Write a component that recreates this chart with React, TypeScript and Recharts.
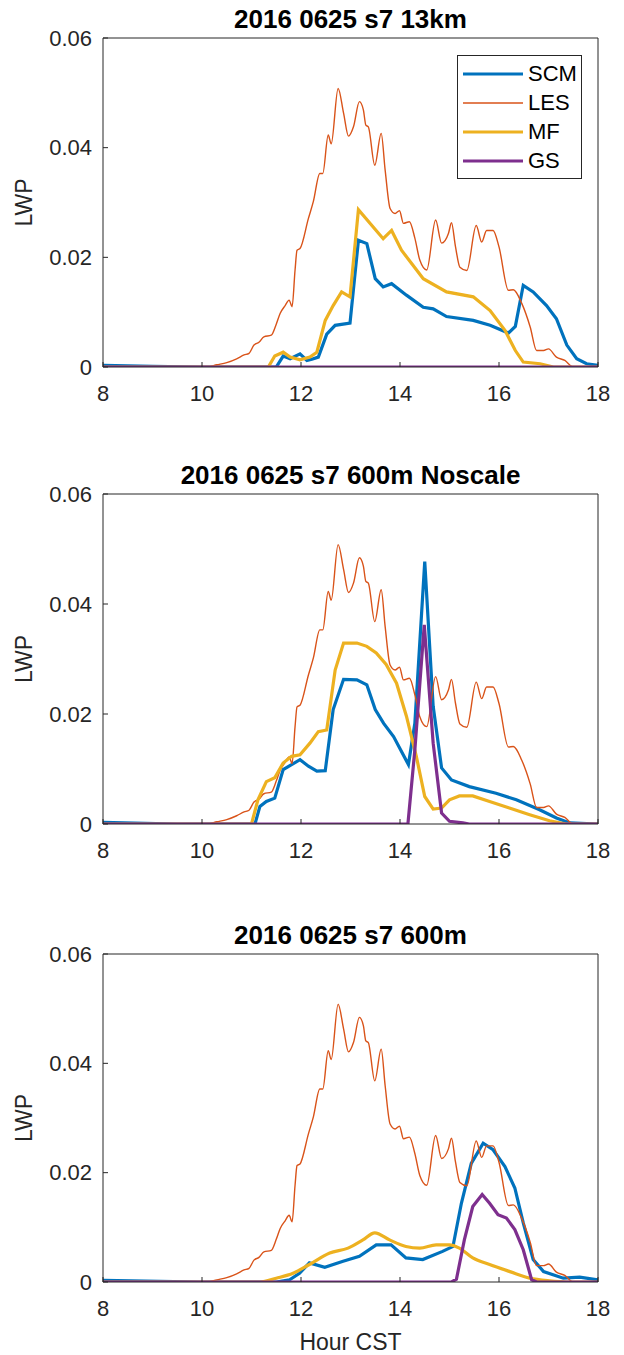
import React from "react";
import { Legend, Line, LineChart, XAxis, YAxis } from "recharts";

// hour of day (CST) and liquid water path
const lesHours = [
  8, 10.1, 10.3, 10.5, 10.7, 10.85, 10.95, 11.05, 11.15, 11.25, 11.4, 11.5, 11.58, 11.68, 11.76, 11.82, 11.88,
  11.92, 11.98, 12.15, 12.25, 12.38, 12.44, 12.55, 12.61, 12.75, 12.86, 12.96, 13.06, 13.18, 13.26, 13.31, 13.36,
  13.49, 13.62, 13.7, 13.8, 13.9, 13.99, 14.07, 14.19, 14.3, 14.4, 14.54, 14.72, 14.84, 14.98, 15.04, 15.12, 15.21,
  15.35, 15.54, 15.65, 15.75, 15.88, 16.0, 16.19, 16.29, 16.46, 16.63, 16.76, 16.9, 17.0, 17.16, 17.33, 17.5, 18,
];
const lesLwp = [
  0, 0, 0.0004, 0.0008, 0.0015, 0.0022, 0.0025, 0.004, 0.0045, 0.0055, 0.0058, 0.0078, 0.0098, 0.0112, 0.0122, 0.011,
  0.0177, 0.0213, 0.0216, 0.0271, 0.0302, 0.0353, 0.0353, 0.0423, 0.0407, 0.0508, 0.0463, 0.0421, 0.0438, 0.0484,
  0.0469, 0.0441, 0.0438, 0.0368, 0.0426, 0.0359, 0.0289, 0.028, 0.0285, 0.0262, 0.0265, 0.0235, 0.0195, 0.0177,
  0.0268, 0.0226, 0.0244, 0.0263, 0.022, 0.0182, 0.0176, 0.0258, 0.0228, 0.0249, 0.0249, 0.0219, 0.014, 0.0141,
  0.0116, 0.0073, 0.003, 0.003, 0.0033, 0.0018, 0.0012, 0, 0,
];

// panel 1: 13km
const scm13Hours = [
  8, 9, 10, 11.5, 11.64, 11.78, 11.98, 12.12, 12.22, 12.35, 12.52, 12.69, 12.99, 13.16, 13.33, 13.5, 13.66, 13.83,
  14.13, 14.47, 14.67, 14.94, 15.48, 15.82, 16.19, 16.33, 16.49, 16.69, 16.96, 17.16, 17.37, 17.57, 17.77, 18,
];
const scm13Lwp = [
  0.0003, 0.0001, 0, 0, 0.002, 0.0015, 0.0024, 0.0012, 0.0014, 0.0018, 0.006, 0.0076, 0.008, 0.0231, 0.0225, 0.0161,
  0.0146, 0.0152, 0.0131, 0.0109, 0.0106, 0.0092, 0.0085, 0.0076, 0.0062, 0.0074, 0.0149, 0.0137, 0.0112, 0.0088,
  0.004, 0.0015, 0.0006, 0.0003,
];
const mf13Hours = [
  8, 11.34, 11.47, 11.64, 11.78, 11.98, 12.18, 12.32, 12.49, 12.65, 12.82, 12.99, 13.16, 13.66, 13.83, 14.03, 14.47,
  14.94, 15.48, 15.82, 16.12, 16.33, 16.49, 16.83, 17.1, 18,
];
const mf13Lwp = [
  0, 0, 0.002, 0.0027, 0.0018, 0.0013, 0.0018, 0.0027, 0.0085, 0.0112, 0.0137, 0.0128, 0.0287, 0.0234, 0.0249, 0.0213,
  0.0161, 0.0137, 0.0128, 0.0103, 0.0067, 0.003, 0.0009, 0.0006, 0, 0,
];
const gs13Hours = [8, 18];
const gs13Lwp = [0, 0];

// panel 2: 600m Noscale
const scmNsHours = [
  8, 9.5, 11.07, 11.17, 11.3, 11.47, 11.64, 11.81, 11.98, 12.15, 12.32, 12.49, 12.65, 12.86, 13.13, 13.33, 13.5, 13.67,
  13.87, 14.17, 14.3, 14.5, 14.67, 14.84, 15.04, 15.4, 15.94, 16.35, 16.82, 17.16, 17.43, 18,
];
const scmNsLwp = [
  0.0003, 0, 0, 0.0032, 0.0041, 0.0047, 0.0099, 0.0108, 0.0117, 0.0105, 0.0096, 0.0097, 0.0208, 0.0263, 0.0262,
  0.0253, 0.0208, 0.0183, 0.0159, 0.0108, 0.0183, 0.0477, 0.0214, 0.0102, 0.008, 0.0068, 0.0056, 0.0044, 0.0026,
  0.0011, 0.0002, 0,
];
const mfNsHours = [
  8, 11.0, 11.13, 11.3, 11.47, 11.64, 11.81, 11.98, 12.18, 12.35, 12.52, 12.69, 12.86, 13.13, 13.33, 13.52, 13.72,
  13.93, 14.13, 14.33, 14.5, 14.67, 14.84, 15.0, 15.2, 15.47, 15.81, 16.21, 16.62, 17.02, 17.36, 18,
];
const mfNsLwp = [
  0, 0, 0.0044, 0.0077, 0.0084, 0.0111, 0.0123, 0.0126, 0.0147, 0.0168, 0.0171, 0.028, 0.0329, 0.0329, 0.0323, 0.0311,
  0.029, 0.0256, 0.0196, 0.0123, 0.005, 0.0027, 0.0029, 0.0044, 0.0051, 0.0051, 0.0041, 0.0029, 0.0017, 0.0006, 0, 0,
];
const gsNsHours = [8, 14.16, 14.3, 14.49, 14.67, 14.84, 15.0, 15.27, 15.4, 18];
const gsNsLwp = [0, 0, 0.0135, 0.0362, 0.0147, 0.002, 0.0005, 0.0002, 0, 0];

// panel 3: 600m
const scm600Hours = [
  8, 10, 11.5, 11.77, 11.97, 12.17, 12.48, 12.85, 13.18, 13.52, 13.82, 14.12, 14.46, 14.86, 15.07, 15.24, 15.44, 15.68,
  15.88, 16.12, 16.32, 16.49, 16.69, 16.9, 17.3, 17.63, 18,
];
const scm600Lwp = [
  0.0003, 0, 0, 0.0004, 0.0016, 0.0035, 0.0027, 0.0038, 0.0047, 0.0068, 0.0068, 0.0044, 0.0041, 0.0056, 0.0065, 0.0144,
  0.0217, 0.0254, 0.0242, 0.0211, 0.0172, 0.0108, 0.0041, 0.0019, 0.0007, 0.0009, 0.0004,
];
const mf600Hours = [
  8, 11.17, 11.5, 11.84, 12.17, 12.58, 12.95, 13.25, 13.49, 13.79, 14.12, 14.4, 14.73, 15.0, 15.2, 15.47, 15.81, 16.22,
  16.62, 17.02, 17.36, 18,
];
const mf600Lwp = [
  0, 0, 0.0007, 0.0016, 0.0032, 0.0053, 0.0062, 0.0077, 0.009, 0.0077, 0.0065, 0.0062, 0.0068, 0.0068, 0.0062, 0.0044,
  0.0032, 0.0019, 0.0007, 0.0002, 0, 0,
];
const gs600Hours = [8, 15.04, 15.14, 15.3, 15.47, 15.66, 15.81, 15.98, 16.15, 16.32, 16.49, 16.66, 16.76, 18];
const gs600Lwp = [0, 0, 0.0005, 0.0077, 0.0138, 0.016, 0.0144, 0.0123, 0.0117, 0.0096, 0.0059, 0.0004, 0, 0];

const hourTicks = [8, 10, 12, 14, 16, 18];
const lwpTicks = [0, 0.02, 0.04, 0.06];
const seriesOrder = ["SCM", "LES", "MF", "GS"];

const colors: Record<string, string> = { SCM: "#0072BD", LES: "#D95319", MF: "#EDB120", GS: "#7E2F8E" };
const widths: Record<string, number> = { SCM: 3.2, LES: 1.4, MF: 3.2, GS: 3.2 };
const ink = "#262626";

const pts = (hours: number[], lwp: number[]) => hours.map((h, i) => ({ hour: h, lwp: lwp[i] }));

function LegendBox({ payload }: any) {
  const items = (payload || [])
    .filter((e: any) => seriesOrder.includes(e.value))
    .sort((a: any, b: any) => seriesOrder.indexOf(a.value) - seriesOrder.indexOf(b.value));
  return (
    <div style={{ width: 125, boxSizing: "border-box", border: `1px solid ${ink}`, background: "#fff", padding: "3px 0 3px 5px" }}>
      {items.map((entry: any) => (
        <div key={entry.value} style={{ display: "flex", alignItems: "center", height: 29 }}>
          <svg width={60} height={8}>
            <line x1={0} x2={60} y1={4} y2={4} stroke={colors[entry.value]} strokeWidth={widths[entry.value]} />
          </svg>
          <span style={{ marginLeft: 5, fontSize: 22, color: "#000", lineHeight: "29px" }}>{entry.value}</span>
        </div>
      ))}
    </div>
  );
}

type Pt = { hour: number; lwp: number };
type PanelProps = {
  title: string;
  top: number;
  height: number;
  marginTop: number;
  marginBottom: number;
  xHeight: number;
  scm: Pt[];
  mf: Pt[];
  gs: Pt[];
  mfCurve?: "linear" | "monotone";
  showLegend?: boolean;
  xLabel?: string;
};

function Panel({ title, top, height, marginTop, marginBottom, xHeight, scm, mf, gs, mfCurve = "linear", showLegend, xLabel }: PanelProps) {
  const les = pts(lesHours, lesLwp);
  // invisible series so the top/right frame axes get drawn
  const frame = pts([8, 18], [0, 0]);
  return (
    <div style={{ position: "absolute", left: 0, top }}>
      <LineChart width={624} height={height} margin={{ top: marginTop - 1, right: 25, bottom: marginBottom, left: 0 }}>
        <XAxis
          xAxisId="x"
          type="number"
          dataKey="hour"
          domain={[8, 18]}
          ticks={hourTicks}
          allowDataOverflow
          height={xHeight}
          stroke={ink}
          tickSize={-5}
          tickMargin={23}
          tick={{ fontSize: 22, fill: ink }}
          label={xLabel ? { value: xLabel, position: "insideBottom", offset: 2, fontSize: 23, fill: ink } : undefined}
        />
        <XAxis
          xAxisId="top"
          orientation="top"
          type="number"
          dataKey="hour"
          domain={[8, 18]}
          ticks={hourTicks}
          allowDataOverflow
          height={1}
          stroke={ink}
          tickSize={-5}
          tick={false}
          label={{ value: title, position: "top", offset: 9, fontSize: 26, fontWeight: 700, fill: "#000" }}
        />
        <YAxis
          yAxisId="y"
          type="number"
          domain={[0, 0.06]}
          ticks={lwpTicks}
          allowDataOverflow
          width={103}
          stroke={ink}
          tickSize={-5}
          tickMargin={16}
          tick={{ fontSize: 22, fill: ink }}
          tickFormatter={(v: number) => (v === 0 ? "0" : v.toFixed(2))}
          label={{ value: "LWP", angle: -90, position: "insideLeft", offset: 24, fontSize: 23, fill: ink, style: { textAnchor: "middle" } }}
        />
        <YAxis
          yAxisId="right"
          orientation="right"
          type="number"
          domain={[0, 0.06]}
          ticks={lwpTicks}
          allowDataOverflow
          width={1}
          stroke={ink}
          tickSize={-5}
          tick={false}
        />
        {showLegend && (
          <Legend
            layout="vertical"
            align="center"
            verticalAlign="middle"
            wrapperStyle={{ top: 55, left: 457, width: 125 }}
            content={<LegendBox />}
          />
        )}
        <Line xAxisId="top" yAxisId="right" data={frame} dataKey="lwp" name="frame" stroke="none" legendType="none" dot={false} activeDot={false} isAnimationActive={false} />
        <Line xAxisId="x" yAxisId="y" data={scm} dataKey="lwp" name="SCM" type="linear" stroke={colors.SCM} strokeWidth={widths.SCM} dot={false} activeDot={false} isAnimationActive={false} />
        <Line xAxisId="x" yAxisId="y" data={les} dataKey="lwp" name="LES" type="monotone" stroke={colors.LES} strokeWidth={widths.LES} dot={false} activeDot={false} isAnimationActive={false} />
        <Line xAxisId="x" yAxisId="y" data={mf} dataKey="lwp" name="MF" type={mfCurve} stroke={colors.MF} strokeWidth={widths.MF} dot={false} activeDot={false} isAnimationActive={false} />
        <Line xAxisId="x" yAxisId="y" data={gs} dataKey="lwp" name="GS" type="linear" stroke={colors.GS} strokeWidth={widths.GS} dot={false} activeDot={false} isAnimationActive={false} />
      </LineChart>
    </div>
  );
}

export default function App() {
  return (
    <div
      style={{
        position: "absolute",
        left: 0,
        top: 0,
        width: 624,
        height: 1355,
        background: "#fff",
        fontFamily: '"Liberation Sans", Arial, Helvetica, sans-serif',
      }}
    >
      <Panel
        title="2016 0625 s7 13km"
        top={0}
        height={460}
        marginTop={38}
        marginBottom={63}
        xHeight={30}
        scm={pts(scm13Hours, scm13Lwp)}
        mf={pts(mf13Hours, mf13Lwp)}
        gs={pts(gs13Hours, gs13Lwp)}
        showLegend
      />
      <Panel
        title="2016 0625 s7 600m Noscale"
        top={460}
        height={460}
        marginTop={34}
        marginBottom={66}
        xHeight={30}
        scm={pts(scmNsHours, scmNsLwp)}
        mf={pts(mfNsHours, mfNsLwp)}
        gs={pts(gsNsHours, gsNsLwp)}
      />
      <Panel
        title="2016 0625 s7 600m"
        top={920}
        height={435}
        marginTop={34}
        marginBottom={3}
        xHeight={70}
        scm={pts(scm600Hours, scm600Lwp)}
        mf={pts(mf600Hours, mf600Lwp)}
        gs={pts(gs600Hours, gs600Lwp)}
        mfCurve="monotone"
        xLabel="Hour CST"
      />
    </div>
  );
}
